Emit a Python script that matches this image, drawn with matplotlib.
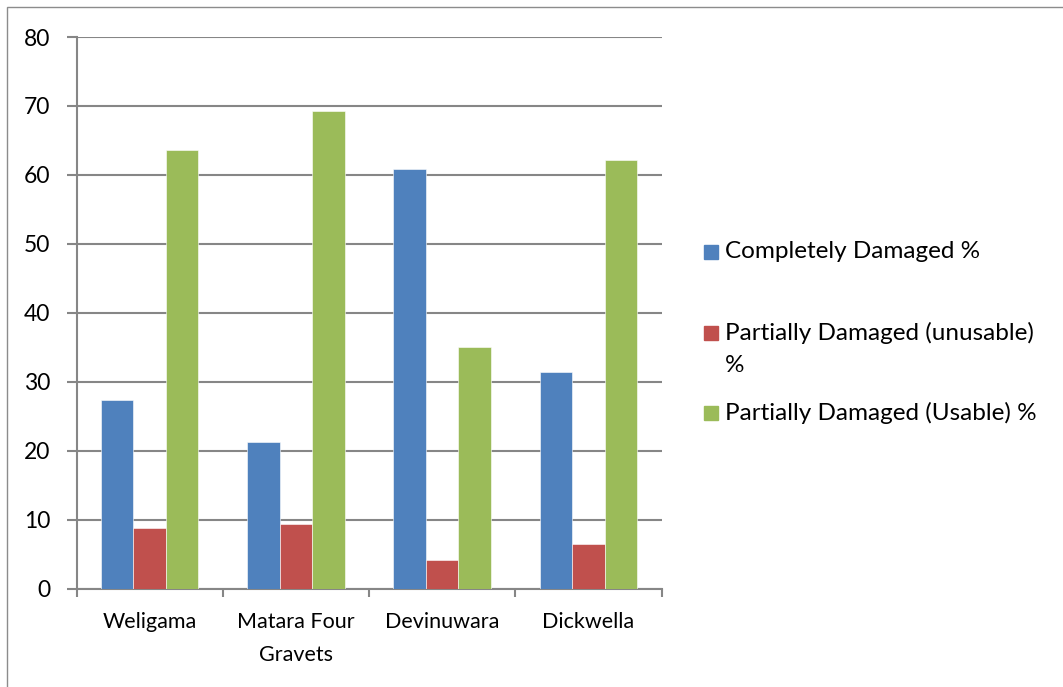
import numpy as np
import matplotlib
matplotlib.use("Agg")
import matplotlib.pyplot as plt
from matplotlib.patches import Rectangle

plt.rcParams['font.family'] = ['Lato', 'DejaVu Sans']

sites = ["Weligama", "Matara Four\nGravets", "Devinuwara", "Dickwella"]
completely = [27.4, 21.3, 60.8, 31.4]
partial_unusable = [8.8, 9.4, 4.1, 6.4]
partial_usable = [63.6, 69.3, 35.0, 62.2]

series = [
    ("Completely Damaged %", completely, "#4F81BD"),
    ("Partially Damaged (unusable)", partial_unusable, "#C0504D"),
    ("Partially Damaged (Usable) %", partial_usable, "#9BBB59"),
]

W, H = 1063, 687
fig = plt.figure(figsize=(W / 100, H / 100), dpi=100)

# outer chart frame
fig.add_artist(Rectangle((7 / W, -0.05), 1.1, 1 - 7 / H + 0.05, transform=fig.transFigure,
                         fill=False, edgecolor="#8c8c8c", lw=1.0))

left, right, top, bottom = 76.5, 661.5, 37, 588.5
ax = fig.add_axes([left / W, 1 - bottom / H, (right - left) / W, (bottom - top) / H])

x = np.arange(len(sites))
bw = 0.222
for i, (name, vals, col) in enumerate(series):
    ax.bar(x + (i - 1) * bw, vals, width=bw, color=col, edgecolor="white", lw=0.4, zorder=3)

grey = "#868686"
ax.set_xlim(-0.5, len(sites) - 0.5)
ax.set_ylim(0, 80)
ax.set_yticks(range(0, 81, 10))
ax.yaxis.grid(True, color=grey, lw=1.5, zorder=0)
ax.set_xticks(x)
ax.set_xticklabels(sites, linespacing=1.8)
ax.set_xticks(np.arange(-0.5, len(sites), 1), minor=True)
ax.tick_params(axis="x", which="major", length=0, pad=17, labelsize=15.5)
ax.tick_params(axis="x", which="minor", length=6, width=1.5, color=grey)
ax.tick_params(axis="y", length=7, width=1.5, color=grey, pad=12, labelsize=16.5)
for s in ["top", "right"]:
    ax.spines[s].set_visible(False)
for s in ["left", "bottom"]:
    ax.spines[s].set_color(grey)
    ax.spines[s].set_linewidth(1.5)

# legend drawn at fixed rows on the right; the unusable entry wraps its "%"
rows = [252, 333, 413]
for (name, vals, col), yy in zip(series, rows):
    fig.add_artist(Rectangle((704 / W, 1 - (yy + 7) / H), 14 / W, 14 / H,
                             transform=fig.transFigure, color=col))
    fig.text(725 / W, 1 - yy / H, name, fontsize=17.5, va="center")
fig.text(725 / W, 1 - 366 / H, "%", fontsize=17.5, va="center")

fig.savefig("out.png", dpi=100)
